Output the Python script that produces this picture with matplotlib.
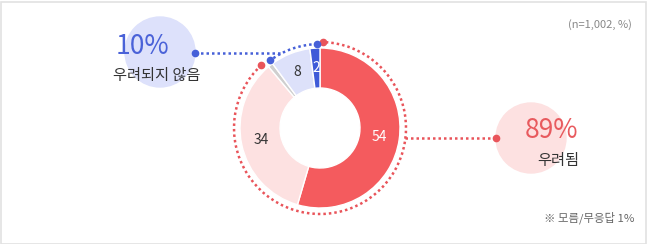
import numpy as np
import matplotlib.pyplot as plt
from matplotlib.patches import Arc, Circle, Rectangle

plt.rcParams['font.family'] = ['Noto Sans CJK KR', 'DejaVu Sans']

# data
segments = ['우려됨(매우)', '우려됨(다소)', '모름/무응답', '우려되지 않음(별로)', '우려되지 않음(전혀)']
values = [54, 34, 1, 8, 2]
colors = ['#F45B5E', '#FDE1E1', '#CFCFCF', '#DDE1FA', '#3F5BD8']
label_colors = ['white', '#333333', None, '#333333', 'white']
group_names = ['우려됨', '우려되지 않음']
group_pct = [89, 10]
n_note = '(n=1,002, %)'
dk_note = '※ 모름/무응답 1%'

W, H = 647, 244
fig = plt.figure(figsize=(W / 100, H / 100), dpi=100)
ax = fig.add_axes([0, 0, 1, 1])

cx, cy, R = 320, 116, 80
ax.pie(values, colors=colors, center=(cx, cy), radius=R, startangle=90,
       counterclock=False, frame=True,
       wedgeprops=dict(width=40, edgecolor='white', linewidth=1))

total = sum(values)
cum = np.cumsum([0] + values)
# angles (deg, ccw from +x) of each wedge boundary
bounds = 90 - cum / total * 360
for i, v in enumerate(values):
    if label_colors[i] is None:
        continue
    mid = np.radians((bounds[i] + bounds[i + 1]) / 2)
    ax.text(cx + 60 * np.cos(mid), cy + 60 * np.sin(mid), str(v),
            ha='center', va='center', fontsize=10, color=label_colors[i])

dot = dict(linestyle=(0, (1, 1.2)), linewidth=1.8)
ra = 86
red, blue = '#E9545A', '#4660D8'

# outer dotted arc for 우려됨 (first two wedges)
a_end = bounds[2] + 360 + 3
ax.add_patch(Arc((cx, cy), 2 * ra, 2 * ra, theta1=a_end, theta2=88 + 360, color=red, **dot))
for a in (88, a_end):
    ax.plot(cx + ra * np.cos(np.radians(a)), cy + ra * np.sin(np.radians(a)), 'o', color=red, ms=4.5)

# outer dotted arc for 우려되지 않음 (last two wedges)
rb = 84
b_end = bounds[3] + 360
ax.add_patch(Arc((cx, cy), 2 * rb, 2 * rb, theta1=92, theta2=b_end, color=blue, **dot))
for a in (92, b_end):
    ax.plot(cx + rb * np.cos(np.radians(a)), cy + rb * np.sin(np.radians(a)), 'o', color=blue, ms=4.5)

# bubbles
lx, ly, rx, ry, br = 160, 192, 531, 106, 35
ax.add_patch(Circle((lx, ly), br, color='#DDE1FB', zorder=0))
ax.add_patch(Circle((rx, ry), br, color='#FDE1E1', zorder=0))

# connector lines
yl = ly - 1
xa = cx - np.sqrt(rb ** 2 - (yl - cy) ** 2)
ax.plot([lx + br, xa], [yl, yl], color=blue, **dot)
ax.plot(lx + br, yl, 'o', color=blue, ms=4.5)
xb = cx + np.sqrt(ra ** 2 - (ry - cy) ** 2)
ax.plot([xb, rx - br], [ry, ry], color=red, **dot)
ax.plot(rx - br, ry, 'o', color=red, ms=4.5)

ax.text(142, 197, f'{group_pct[1]}%', ha='center', va='center', fontsize=19, color='#4A62D8')
ax.text(157, 169, group_names[1], ha='center', va='center', fontsize=11, color='#333333')
ax.text(552, 113, f'{group_pct[0]}%', ha='center', va='center', fontsize=19, color='#E85A5E')
ax.text(558, 84, group_names[0], ha='center', va='center', fontsize=11, color='#333333')

ax.text(632, 219, n_note, ha='right', va='center', fontsize=8, color='#888888')
ax.text(634, 26, dk_note, ha='right', va='center', fontsize=8.2, color='#666666')

ax.add_patch(Rectangle((0.5, 0.5), W - 2, H - 2, fill=False, edgecolor='#E2E2E2', linewidth=1.2))

ax.set_xlim(0, W)
ax.set_ylim(0, H)
ax.set_aspect('auto')
ax.axis('off')
fig.savefig('out.png', dpi=100)
